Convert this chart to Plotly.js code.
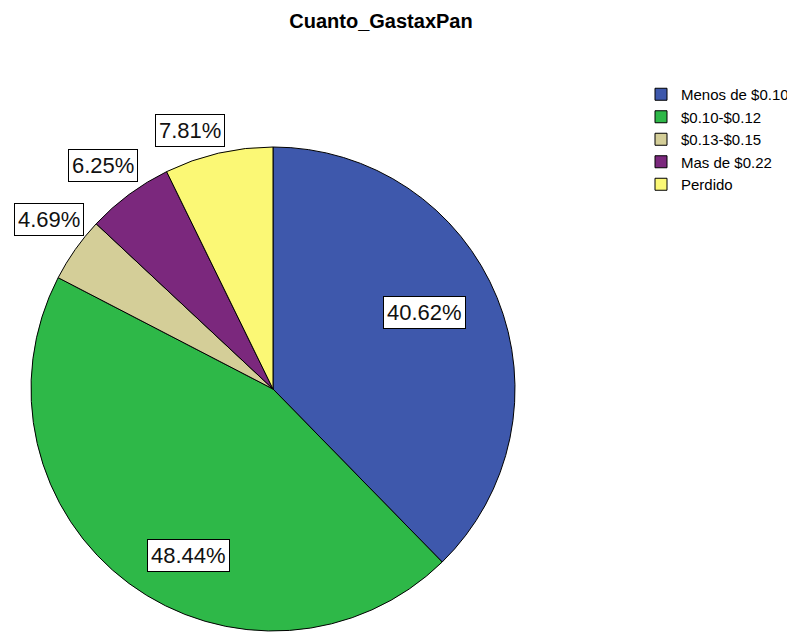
<!DOCTYPE html>
<html>
<head>
<meta charset="utf-8">
<script src="https://cdn.plot.ly/plotly-3.0.1.min.js"></script>
<style>html,body{margin:0;padding:0;background:#fff;}#chart{width:787px;height:637px;}</style>
</head>
<body>
<div id="chart"></div>
<script>
// ---- data ----
const categories = ["Menos de $0.10", "$0.10-$0.12", "$0.13-$0.15", "Mas de $0.22", "Perdido"];
const percents = [40.62, 48.44, 4.69, 6.25, 7.81];
const colors = ["#3E58AC", "#2EB848", "#D4CE98", "#7B287D", "#FBF875"];

// ---- layout constants ----
const W = 787, H = 637;
const CX = 273, CY = 389, R = 242;            // pie centre & radius (px)
const labelRadius = [0.70, 0.77, 1.16, 1.16, 1.12];
const labelAngleShift = [-4.5, -9.5, 2, -0.7, -4.7];

const total = percents.reduce((a, b) => a + b, 0);
let cum = 0;
const annotations = percents.map((v, i) => {
  const mid = (cum + v / 2) / total * 360 + labelAngleShift[i];
  cum += v;
  const a = mid * Math.PI / 180;
  const px = CX + R * labelRadius[i] * Math.sin(a);
  const py = CY - R * labelRadius[i] * Math.cos(a);
  return {
    x: px / W, y: 1 - py / H, xref: "paper", yref: "paper",
    text: v.toFixed(2) + "%", showarrow: false,
    xanchor: "center", yanchor: "middle",
    font: {family: "Liberation Sans, Arial, sans-serif", size: 22, color: "#111"},
    bgcolor: "#fff", bordercolor: "#000", borderwidth: 1, borderpad: 3
  };
});

const trace = {
  type: "pie",
  labels: categories,
  values: percents,
  sort: false,
  direction: "clockwise",
  rotation: 0,
  textinfo: "none",
  hoverinfo: "label+percent",
  marker: {colors: colors, line: {color: "#000", width: 1}},
  domain: {x: [(CX - R) / W, (CX + R) / W], y: [(H - CY - R) / H, (H - CY + R) / H]}
};

const layout = {
  width: W, height: H,
  margin: {l: 0, r: 0, t: 0, b: 0, autoexpand: false},
  paper_bgcolor: "#fff",
  title: {
    text: "Cuanto_GastaxPan",
    x: 381 / W, xanchor: "center", xref: "container",
    y: 1 - 21 / H, yanchor: "middle", yref: "container",
    font: {family: "Liberation Sans, Arial, sans-serif", size: 20, weight: "bold", color: "#000"}
  },
  showlegend: true,
  legend: {
    x: 641 / W, xanchor: "left", y: 1 - 78 / H, yanchor: "top",
    font: {family: "Liberation Sans, Arial, sans-serif", size: 15, color: "#000"},
    bgcolor: "rgba(0,0,0,0)", traceorder: "normal"
  },
  annotations: annotations
};

Plotly.newPlot("chart", [trace], layout, {displayModeBar: false, staticPlot: true});
</script>
</body>
</html>
